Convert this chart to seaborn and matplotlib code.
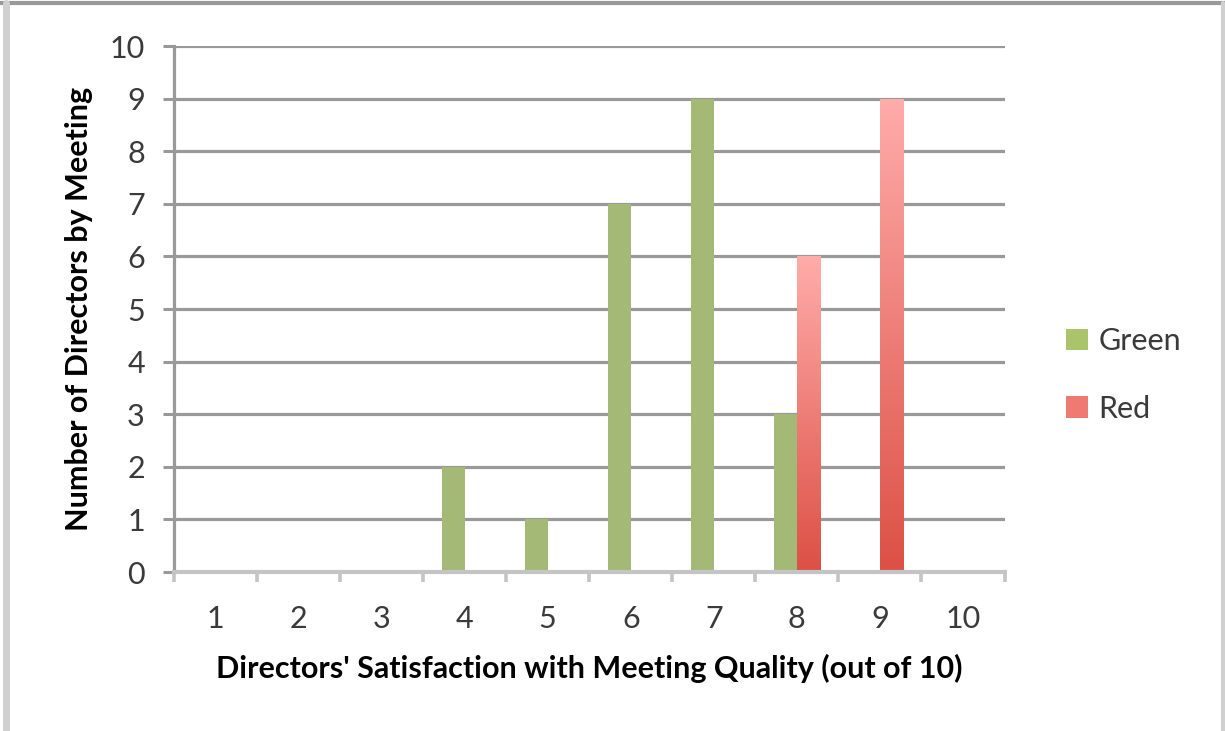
import numpy as np
import pandas as pd
import matplotlib
matplotlib.use("Agg")
import matplotlib.pyplot as plt
import matplotlib.patches as mpatches
from matplotlib.colors import LinearSegmentedColormap
import seaborn as sns

# Survey data: number of directors giving each satisfaction score
scores = [1, 2, 3, 4, 5, 6, 7, 8, 9, 10]
green_counts = [0, 0, 0, 2, 1, 7, 9, 3, 0, 0]
red_counts = [0, 0, 0, 0, 0, 0, 0, 6, 9, 0]
series_names = ["Green", "Red"]
y_ticks = [0, 1, 2, 3, 4, 5, 6, 7, 8, 9, 10]

x_title = "Directors' Satisfaction with Meeting Quality (out of 10)"
y_title = "Number of Directors by Meeting"

GREEN = "#AAC46B"
RED_TOP = "#FFACAA"
RED_BOTTOM = "#DC5045"
GRID = "#999999"
AXIS_LIGHT = "#C4C4C4"
TEXT = "#3A3A3A"
FS = 22

df = pd.DataFrame({
    "score": scores * 2,
    "count": green_counts + red_counts,
    "series": [series_names[0]] * len(scores) + [series_names[1]] * len(scores),
})

sns.set_theme(style="white")
plt.rcParams["font.family"] = ["Lato", "DejaVu Sans"]

fig = plt.figure(figsize=(12.25, 7.31), dpi=100)
ax = fig.add_axes([0.142, 0.2175, 0.678, 0.7195])

sns.barplot(data=df, x="score", y="count", hue="series",
            palette={"Green": GREEN, "Red": RED_BOTTOM},
            width=0.555, dodge=True, gap=0, ax=ax, legend=False,
            linewidth=0, zorder=3)

# vertical gradient fill for the red series
red_cmap = LinearSegmentedColormap.from_list("redgrad", [RED_BOTTOM, RED_TOP])
grad = np.linspace(0, 1, 256).reshape(-1, 1)
red_bars = ax.containers[1]
for bar in red_bars:
    h = bar.get_height()
    if h <= 0:
        continue
    x0 = bar.get_x()
    w = bar.get_width()
    bar.set_facecolor("none")
    im = ax.imshow(grad, cmap=red_cmap, aspect="auto", origin="lower",
                   extent=[x0, x0 + w, 0, h], zorder=3, interpolation="bilinear")
    im.set_clip_path(bar)

ax.set_xlim(-0.5, len(scores) - 0.5)
ax.set_ylim(0, 10)
ax.set_yticks(y_ticks)
ax.set_yticklabels([str(t) for t in y_ticks], fontsize=FS, color=TEXT)
ax.set_xticks(range(len(scores)))
ax.set_xticklabels([str(s) for s in scores], fontsize=FS, color=TEXT)
ax.set_xticks(np.arange(-0.5, len(scores), 1.0), minor=True)

ax.yaxis.grid(True, color=GRID, linewidth=2.3, zorder=0)
ax.set_axisbelow(True)

ax.tick_params(axis="y", which="major", left=True, length=8, width=2.2,
               color=GRID, pad=13)
ax.tick_params(axis="x", which="major", bottom=False, pad=18)
ax.tick_params(axis="x", which="minor", bottom=True, length=7, width=2.6,
               color=AXIS_LIGHT)

for side in ["top", "right"]:
    ax.spines[side].set_visible(False)
ax.spines["left"].set_color(GRID)
ax.spines["left"].set_linewidth(2.3)
ax.spines["bottom"].set_color(AXIS_LIGHT)
ax.spines["bottom"].set_linewidth(3.0)
ax.spines["bottom"].set_zorder(4)

ax.set_xlabel(x_title, fontsize=FS, fontweight="bold", color="black", labelpad=15)
ax.set_ylabel(y_title, fontsize=FS, fontweight="bold", color="black", labelpad=12)

handles = [mpatches.Patch(facecolor=GREEN, edgecolor="none", label=series_names[0]),
           mpatches.Patch(facecolor="#EE7A72", edgecolor="none", label=series_names[1])]
fig.legend(handles=handles, loc="center left", bbox_to_anchor=(0.848, 0.487),
           frameon=False, fontsize=FS, handlelength=0.7, handleheight=0.7,
           handletextpad=0.35, labelspacing=1.3, labelcolor=TEXT)

# outer frame
fig.add_artist(plt.Line2D([0, 1], [0.9965, 0.9965], transform=fig.transFigure,
                          color="#999999", linewidth=3.0))
fig.add_artist(plt.Line2D([0.0045, 0.0045], [0, 0.996], transform=fig.transFigure,
                          color="#D0D0D0", linewidth=5.0))
fig.add_artist(plt.Line2D([0.9985, 0.9985], [0, 0.996], transform=fig.transFigure,
                          color="#D0D0D0", linewidth=3.0))

fig.savefig("out.png", dpi=100, facecolor="white")
